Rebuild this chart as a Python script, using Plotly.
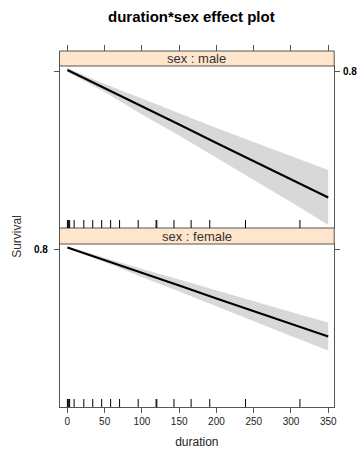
import plotly.graph_objects as go

# ---- data ----
duration = [0, 50, 100, 150, 200, 250, 300, 350]
male_fit = [0.802, 0.766, 0.729, 0.693, 0.656, 0.620, 0.584, 0.547]
male_upper = [0.806, 0.774, 0.745, 0.715, 0.686, 0.658, 0.630, 0.602]
male_lower = [0.798, 0.758, 0.713, 0.671, 0.626, 0.582, 0.538, 0.492]
female_fit = [0.803, 0.778, 0.752, 0.727, 0.701, 0.676, 0.650, 0.625]
female_upper = [0.805, 0.782, 0.760, 0.739, 0.717, 0.696, 0.674, 0.653]
female_lower = [0.801, 0.774, 0.744, 0.715, 0.685, 0.656, 0.626, 0.597]
rug_values = [0, 1, 2, 3, 9, 22, 34, 46, 58, 70, 95, 119, 120, 143, 166, 191, 239, 312]
x_ticks = [0, 50, 100, 150, 200, 250, 300, 350]
y_ticks = [0.8]
y_tick_text = ["0.8"]
panel_labels = ["sex : male", "sex : female"]

W, H = 362, 450
FONT = "Liberation Sans, Arial, sans-serif"
FRAME = "#555555"
BAND = "#D8D8D8"
STRIP = "#FFE5CC"

def px_x(p):
    return p / W

def px_y(p):
    return 1 - p / H

xdom = [px_x(60), px_x(337)]
top_dom = [px_y(228), px_y(66)]
bot_dom = [px_y(407), px_y(244)]
xrange_ = [-10.6, 358]
top_range = [0.486, 0.81]
bot_range = [0.484, 0.81]

fig = go.Figure()

def add_panel(xa, ya, fit, up, lo):
    fig.add_trace(go.Scatter(x=duration + duration[::-1], y=up + lo[::-1],
                             fill="toself", fillcolor=BAND, line=dict(width=0),
                             mode="lines", hoverinfo="skip", showlegend=False,
                             xaxis=xa, yaxis=ya))
    fig.add_trace(go.Scatter(x=duration, y=fit, mode="lines",
                             line=dict(color="black", width=2),
                             showlegend=False, xaxis=xa, yaxis=ya))

add_panel("x", "y", male_fit, male_upper, male_lower)
add_panel("x2", "y2", female_fit, female_upper, female_lower)
# invisible trace to render top tick axis
fig.add_trace(go.Scatter(x=[xrange_[0]], y=[top_range[0]], mode="markers",
                         marker=dict(opacity=0), showlegend=False,
                         hoverinfo="skip", xaxis="x3", yaxis="y"))

tickfont = dict(family=FONT, size=10, color="#222")
axis_common = dict(showgrid=False, zeroline=False, linecolor=FRAME, linewidth=1,
                   tickcolor=FRAME, tickfont=tickfont)

fig.update_layout(
    width=W, height=H,
    margin=dict(l=0, r=0, t=0, b=0),
    paper_bgcolor="white", plot_bgcolor="white",
    xaxis=dict(domain=xdom, range=xrange_, anchor="y", showticklabels=False,
               ticks="", showline=True, mirror=True, **axis_common),
    yaxis=dict(domain=top_dom, range=top_range, anchor="x", side="right",
               tickvals=y_ticks, showticklabels=False, ticks="outside", ticklen=5,
               showline=True, mirror="ticks", **axis_common),
    xaxis2=dict(domain=xdom, range=xrange_, anchor="y2", tickvals=x_ticks,
                ticks="outside", ticklen=5, showline=True, mirror=True,
                title=dict(text="duration", font=dict(family=FONT, size=12, color="#222"),
                           standoff=11),
                **axis_common),
    yaxis2=dict(domain=bot_dom, range=bot_range, anchor="x2", side="left",
                tickvals=y_ticks, showticklabels=False, ticks="outside", ticklen=5,
                showline=True, mirror="ticks", **axis_common),
    xaxis3=dict(overlaying="x", side="top", anchor="free", position=px_y(51),
                range=xrange_, tickvals=x_ticks, showticklabels=False,
                ticks="outside", ticklen=6, showline=False, showgrid=False,
                zeroline=False, tickcolor=FRAME),
)

shapes = []
# strips
for (t, b) in [(51, 66), (228, 244)]:
    shapes.append(dict(type="rect", xref="paper", yref="paper",
                       x0=xdom[0], x1=xdom[1], y0=px_y(b), y1=px_y(t),
                       fillcolor=STRIP, line=dict(color=FRAME, width=1), layer="above"))
# rugs
for yref, frac in [("y domain", 8 / 162), ("y2 domain", 8 / 163)]:
    xr = "x" if yref == "y domain" else "x2"
    for v in rug_values:
        shapes.append(dict(type="line", xref=xr, yref=yref, x0=v, x1=v, y0=0, y1=frac,
                           line=dict(color="black", width=1)))
fig.update_layout(shapes=shapes)

ann = []
for label, (t, b) in zip(panel_labels, [(51, 66), (228, 244)]):
    ann.append(dict(text=label, xref="paper", yref="paper", x=(xdom[0] + xdom[1]) / 2,
                    y=px_y((t + b) / 2), showarrow=False, xanchor="center", yanchor="middle",
                    font=dict(family=FONT, size=13, color="#333")))
# y tick labels (top panel on right, bottom panel on left)
ann.append(dict(text="<b>" + y_tick_text[0] + "</b>", xref="paper", yref="y",
                x=px_x(344), y=y_ticks[0], showarrow=False, xanchor="left", yanchor="middle",
                font=dict(family=FONT, size=10, color="black")))
ann.append(dict(text="<b>" + y_tick_text[0] + "</b>", xref="paper", yref="y2",
                x=px_x(50), y=y_ticks[0], showarrow=False, xanchor="right", yanchor="middle",
                font=dict(family=FONT, size=10, color="black")))
ann.append(dict(text="<b>duration*sex effect plot</b>", xref="paper", yref="paper",
                x=px_x(193), y=px_y(16), showarrow=False, xanchor="center", yanchor="middle",
                font=dict(family=FONT, size=15, color="black")))
ann.append(dict(text="Survival", xref="paper", yref="paper", x=px_x(17), y=px_y(236),
                showarrow=False, textangle=-90, xanchor="center", yanchor="middle",
                font=dict(family=FONT, size=12, color="#333")))
fig.update_layout(annotations=ann)

fig.write_html("out.html", config={"displayModeBar": False},
               post_script="document.body.style.margin='0';")
